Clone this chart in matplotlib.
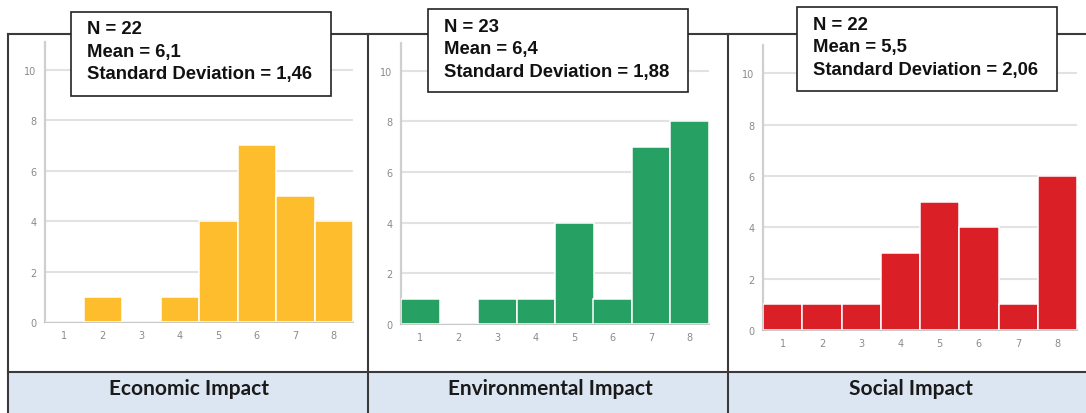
import numpy as np
import matplotlib
matplotlib.use("Agg")
import matplotlib.pyplot as plt
from matplotlib.patches import Rectangle

# histogram data (score 1..8 -> number of respondents)
scores = [1, 2, 3, 4, 5, 6, 7, 8]
economic = [0, 1, 0, 1, 4, 7, 5, 4]
environmental = [1, 0, 1, 1, 4, 1, 7, 8]
social = [1, 1, 1, 3, 5, 4, 1, 6]

titles = ["Economic Impact", "Environmental Impact", "Social Impact"]
n_values = [22, 23, 22]
means = ["6,1", "6,4", "5,5"]
std_devs = ["1,46", "1,88", "2,06"]
bar_colors = ["#FDBD2C", "#27A064", "#DB1F26"]
yticks = [0, 2, 4, 6, 8, 10]

W, H = 1086, 414
fig = plt.figure(figsize=(W / 100, H / 100), dpi=100)

# panel geometry in pixels: (left, right, y of zero, y of axis top)
axes_px = [(45, 353, 323, 43), (401, 709, 325, 44), (763, 1077, 331, 46)]
boxes_px = [(71, 13, 331, 97), (428, 10, 688, 93), (797, 8, 1057, 92)]
label_x = [189, 550, 911]

for counts, color, (l, r, y0, yt) in zip([economic, environmental, social],
                                          bar_colors, axes_px):
    ax = fig.add_axes([l / W, (H - y0) / H, (r - l) / W, (y0 - yt) / H])
    ax.bar(scores, counts, width=1.0, color=color, edgecolor="white",
           linewidth=1.1, zorder=3)
    ax.set_xlim(0.5, 8.5)
    ax.set_ylim(0, 11.1)
    ax.set_xticks(scores)
    ax.set_yticks(yticks)
    for g in yticks[1:]:
        ax.axhline(g, color="#E2E2E2", linewidth=1.5, zorder=1)
    for s in ["top", "right"]:
        ax.spines[s].set_visible(False)
    ax.spines["left"].set_color("#CFCFCF")
    ax.spines["left"].set_linewidth(1.6)
    ax.spines["bottom"].set_color("#BDBDBD")
    ax.spines["bottom"].set_linewidth(1.2)
    ax.tick_params(length=0, labelsize=7, labelcolor="#8A8A8A", pad=6)
    ax.patch.set_alpha(0)

# overlay for the table frame, headers and stat boxes (pixel coordinates)
ov = fig.add_axes([0, 0, 1, 1], zorder=5)
ov.set_xlim(0, W)
ov.set_ylim(H, 0)
ov.axis("off")
ov.patch.set_alpha(0)

frame = "#3A3A3A"
ov.add_patch(Rectangle((8, 373), W - 8, H - 373, facecolor="#DCE6F2",
                       edgecolor="none", zorder=1))
ov.plot([8, W], [35, 35], color=frame, lw=1.5, zorder=2)
ov.plot([8, W], [373, 373], color=frame, lw=1.5, zorder=2)
for x in [8, 368, 728]:
    ov.plot([x, x], [35, H], color=frame, lw=1.5, zorder=2)

for i, (x0, y0, x1, y1) in enumerate(boxes_px):
    ov.add_patch(Rectangle((x0, y0), x1 - x0, y1 - y0, facecolor="white",
                           edgecolor="#222222", lw=1.2, zorder=4))
    lines = ["N = %d" % n_values[i], "Mean = %s" % means[i],
             "Standard Deviation = %s" % std_devs[i]]
    for k, t in enumerate(lines):
        ov.text(x0 + 16, y0 + 17 + 22.5 * k, t, ha="left", va="center",
                fontsize=13.3, fontweight="bold", family="Liberation Sans",
                color="#111111", zorder=5)
    ov.text(label_x[i], 389, titles[i], ha="center", va="center",
            fontsize=15, fontweight="bold", family="Lato", color="#1A1A1A",
            zorder=5)

fig.savefig("out.png", dpi=100)
